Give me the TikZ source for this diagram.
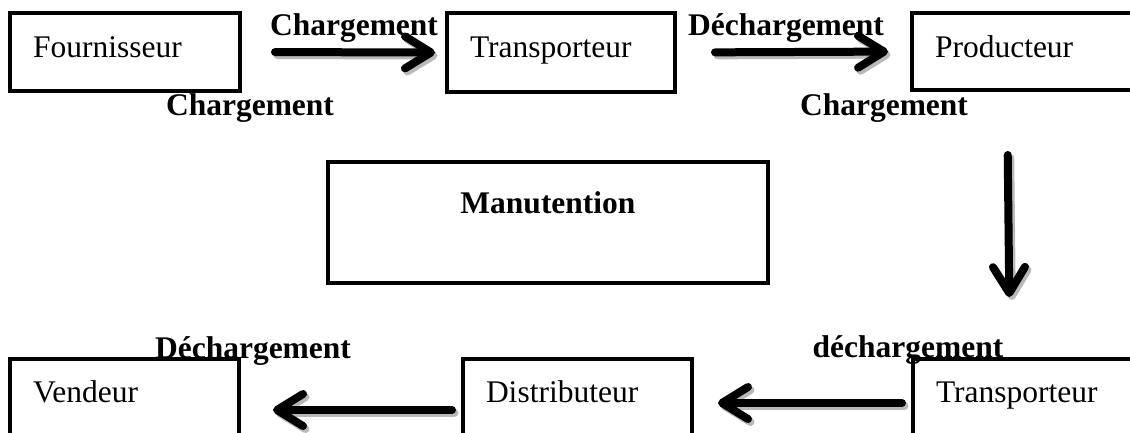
\documentclass[tikz,border=0pt]{standalone}
\usepackage{fontspec}
\setmainfont{Liberation Serif}
\usetikzlibrary{arrows.meta}

\tikzset{
  boite/.style={draw, line width=4.5pt, outer sep=0pt, inner xsep=23pt, inner ysep=0pt,
    anchor=north west, align=left, font=\fontsize{31.5}{38}\selectfont},
  etiq/.style={anchor=base, inner sep=0pt, font=\fontsize{31.5}{38}\selectfont\bfseries},
  fleche/.style={line width=8pt, line cap=round, -{Straight Barb[length=26pt, width=32pt, round]}},
  ombre/.style={fleche, draw=gray!55, transform canvas={shift={(2.5pt,-3pt)}}},
}

\begin{document}
\begin{tikzpicture}[x=1pt, y=-1pt]
	\useasboundingbox (0,0) rectangle (1130,432);
	\clip (0,0) rectangle (1130,432);

	% boites
	\node[boite, text width=184pt, text height=44pt, text depth=34pt] (fourn) at (10,13) {Fournisseur};
	\node[boite, text width=182pt, text height=44pt, text depth=35pt] (transp1) at (447,13) {Transporteur};
	\node[boite, text width=214pt, text height=44pt, text depth=33pt] (prod) at (912,13) {Producteur};
	\node[boite, text width=394pt, text height=51pt, text depth=70pt, align=center,
	      font=\fontsize{31.5}{38}\selectfont\bfseries] (manut) at (328,162) {Manutention};
	\node[boite, text width=183pt, text height=43pt, text depth=59pt] (vend) at (10,359) {Vendeur};
	\node[boite, text width=183pt, text height=43pt, text depth=59pt] (distrib) at (463,359) {Distributeur};
	\node[boite, text width=214pt, text height=43pt, text depth=45pt] (transp2) at (913,359) {Transporteur};

	% etiquettes
	\node[etiq] (ch1) at (354,35) {Chargement};
	\node[etiq] (dech1) at (786,35) {Déchargement};
	\node[etiq] (ch2) at (250,115) {Chargement};
	\node[etiq] (ch3) at (884,115) {Chargement};
	\node[etiq] (dech2) at (253,358) {Déchargement};
	\node[etiq] (dech3) at (908,357) {déchargement};

	% fleches (ombre puis trait)
	\draw[ombre, shorten <=35pt, shorten >=12pt] (fourn.east) -- (transp1.west);
	\draw[fleche, shorten <=35pt, shorten >=12pt] (fourn.east) -- (transp1.west);
	\draw[ombre, shorten <=40pt, shorten >=24pt] (transp1.east) -- (prod.west);
	\draw[fleche, shorten <=40pt, shorten >=24pt] (transp1.east) -- (prod.west);
	\draw[ombre, shorten <=65pt, shorten >=62pt] ([xshift=-35pt]prod.south) -- ([xshift=-33pt]transp2.north);
	\draw[fleche, shorten <=65pt, shorten >=62pt] ([xshift=-35pt]prod.south) -- ([xshift=-33pt]transp2.north);
	\draw[ombre, shorten <=11pt, shorten >=26pt] (transp2.west) -- ([yshift=7pt]distrib.east);
	\draw[fleche, shorten <=11pt, shorten >=26pt] (transp2.west) -- ([yshift=7pt]distrib.east);
	\draw[ombre, shorten <=11pt, shorten >=34pt] (distrib.west) -- (vend.east);
	\draw[fleche, shorten <=11pt, shorten >=34pt] (distrib.west) -- (vend.east);
\end{tikzpicture}
\end{document}
